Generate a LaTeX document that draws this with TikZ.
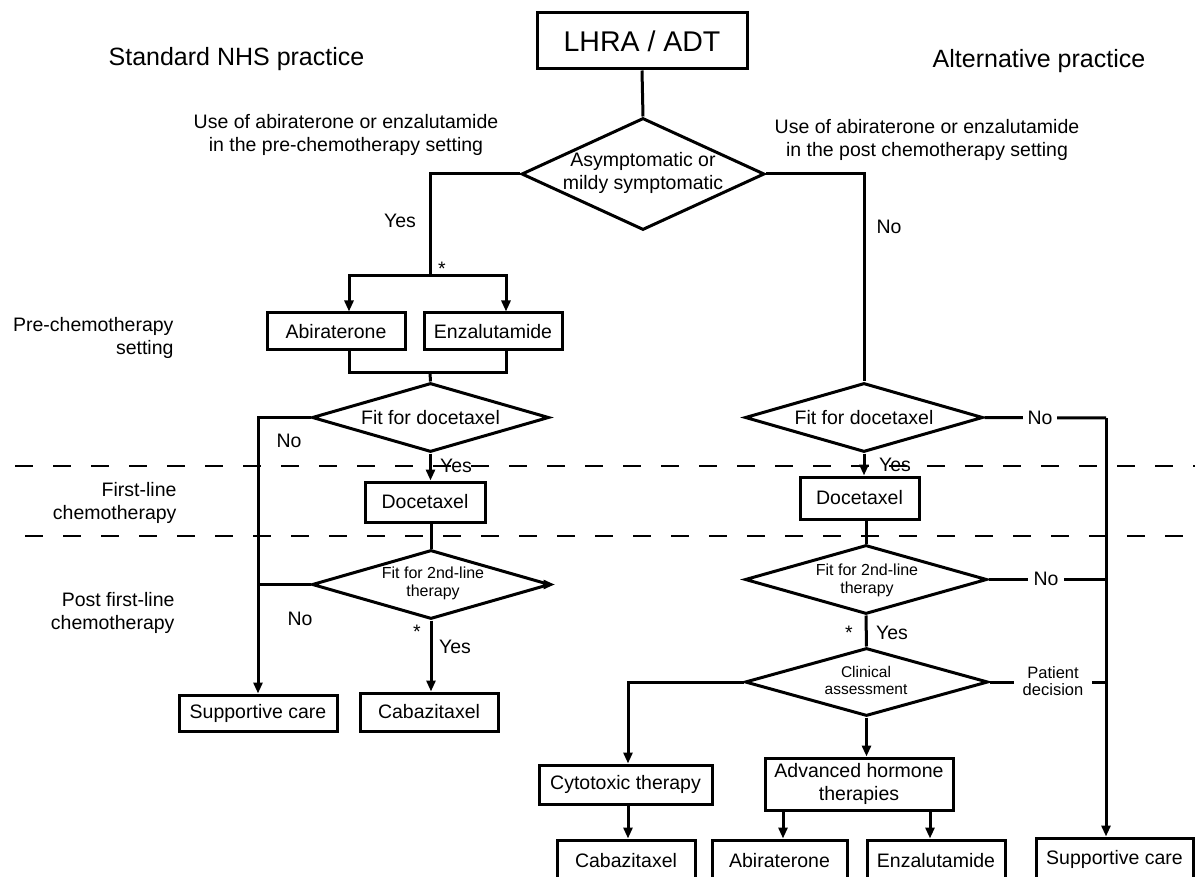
\documentclass[tikz,border=0pt]{standalone}
\usepackage{fontspec}
\setmainfont{Liberation Sans}
\usetikzlibrary{shapes.geometric,arrows.meta}
\begin{document}
\begin{tikzpicture}[x=1pt,y=-1pt,
  line width=3pt,
  font=\fontsize{19.5}{23.5}\selectfont,
  box/.style={draw, line width=3pt, inner sep=0pt, align=center},
  dia/.style={draw, diamond, line width=3pt, inner sep=0pt},
  arr/.style={-{Triangle[length=11pt,width=9pt]}},
  lbl/.style={inner sep=0pt, align=center},
  small/.style={font=\fontsize{16}{18}\selectfont},
  head/.style={inner sep=0pt, font=\fontsize{25}{28}\selectfont},
  gap/.style={fill=white, inner ysep=1pt},
  sep/.style={line width=1.3pt, dash pattern=on 18pt off 20pt},
]
\useasboundingbox (0,0) rectangle (1195,877);

% separators
\draw[sep] (15,466) -- (1195,466);
\draw[sep] (25,536) -- (1195,536);

% headings
\node[head] (hl) at (236.5,59) {Standard NHS practice};
\node[head] (hr) at (1039,61) {Alternative practice};
\node[lbl] (ul) at (346,135) {Use of abiraterone or enzalutamide\\in the pre-chemotherapy setting};
\node[lbl] (ur) at (927,140) {Use of abiraterone or enzalutamide\\in the post chemotherapy setting};

% section labels
\node[lbl, anchor=east, align=right] (s1) at (175,338) {Pre-chemotherapy\\setting};
\node[lbl, anchor=east, align=right] (s2) at (178,503) {First-line\\chemotherapy};
\node[lbl, anchor=east, align=right] (s3) at (176,613) {Post first-line\\chemotherapy};

% top
\node[box, minimum width=210, minimum height=56, font=\fontsize{28.5}{30}\selectfont] (lhra) at (642,41) {LHRA / ADT};
\node[dia, minimum width=243, minimum height=112] (d1) at (643,174) {};
\node[lbl] (d1t) at (643,173) {Asymptomatic or\\mildy symptomatic};

% left branch
\node[box, minimum width=138, minimum height=37] (abi1) at (336,331.5) {Abiraterone};
\node[box, minimum width=138, minimum height=37] (enz1) at (493,331.5) {Enzalutamide};
\node[dia, minimum width=237, minimum height=69] (d2) at (430.5,417.5) {};
\node[lbl] (d2t) at (430.5,418) {Fit for docetaxel};
\node[box, minimum width=120, minimum height=40] (doc1) at (425,502) {Docetaxel};
\node[dia, minimum width=238, minimum height=69] (d3) at (431,584.5) {};
\node[lbl, small] (d3t) at (433,583) {Fit for 2nd-line\\therapy};
\node[box, minimum width=138, minimum height=38] (cab1) at (429,712) {Cabazitaxel};
\node[box, minimum width=158, minimum height=36] (sup1) at (258,713) {Supportive care};

\coordinate (jA) at (430,276);
\coordinate (jB) at (430,373);

\draw (lhra.south) -- (d1.north);
\draw (d1.west) -| (jA);
\draw[arr] (jA) -| ([xshift=13]abi1.north);
\draw[arr] (jA) -| ([xshift=13]enz1.north);
\draw ([xshift=13]abi1.south) |- (jB) -| ([xshift=13]enz1.south);
\draw (jB) -- (d2.north);
\draw[arr] (d2.west) -| (sup1.north);
\draw[arr] (d2.south) -- (d2.south |- doc1.north);
\draw (doc1.south -| d3.north) -- (d3.north);
\draw (d3.west) -- (d3.west -| sup1.north);
\draw[arr] (d3.south) -- (d3.south |- cab1.north);
\draw[arr] ([xshift=-6]d3.east) -- ([xshift=3]d3.east);

\node[lbl] (y1) at (400,221) {Yes};
\node[lbl] (st1) at (442,269) {*};
\node[lbl] (n1) at (289,441) {No};
\node[lbl] (y2) at (456,466) {Yes};
\node[lbl] (n2) at (300,619) {No};
\node[lbl] (st2) at (417,632) {*};
\node[lbl] (y3) at (455,647) {Yes};

% right branch
\node[dia, minimum width=238, minimum height=69] (dR1) at (864,417.5) {};
\node[lbl] (dR1t) at (864,418) {Fit for docetaxel};
\node[box, minimum width=119, minimum height=42] (docR) at (859.5,498) {Docetaxel};
\node[dia, minimum width=242, minimum height=69] (dR2) at (866,579.5) {};
\node[lbl, small] (dR2t) at (867,580) {Fit for 2nd-line\\therapy};
\node[dia, minimum width=243, minimum height=68] (dR3) at (866.5,682) {};
\node[lbl, font=\fontsize{15.5}{17}\selectfont] (dR3t) at (866,680) {Clinical\\assessment};
\node[box, minimum width=173, minimum height=39] (cyto) at (625.5,784.5) {Cytotoxic therapy};
\node[box, minimum width=188, minimum height=52] (adv) at (859,784) {Advanced hormone\\therapies};
\node[box, minimum width=138, minimum height=42] (cabR) at (626,861) {Cabazitaxel};
\node[box, minimum width=135, minimum height=42] (abiR) at (779.5,861) {Abiraterone};
\node[box, minimum width=138, minimum height=42] (enzR) at (936,861) {Enzalutamide};
\node[box, minimum width=157, minimum height=42] (supR) at (1114.5,859) {Supportive care};

\coordinate (cR) at (1106,418);

\draw (d1.east) -| (dR1.north);
\draw (dR1.east) -- (cR);
\draw[arr] (cR) -- (cR |- supR.north);
\draw[arr] (dR1.south) -- (dR1.south |- docR.north);
\draw (docR.south -| dR2.north) -- (dR2.north);
\draw (dR2.east) -- (dR2.east -| cR);
\draw (dR2.south) -- (dR3.north);
\draw (dR3.east) -- (dR3.east -| cR);
\draw[arr] (dR3.west) -| ([xshift=2.5]cyto.north);
\draw[arr] (dR3.south) -- (dR3.south |- adv.north);
\draw[arr] ([xshift=2.5]cyto.south) -- ([xshift=2.5]cyto.south |- cabR.north);
\draw[arr] ([xshift=-76]adv.south) -- ([xshift=-76]adv.south |- abiR.north);
\draw[arr] ([xshift=71]adv.south) -- ([xshift=71]adv.south |- enzR.north);

\node[lbl] (n3) at (889,227) {No};
\node[lbl, gap, inner xsep=5pt] (n4) at (1040,418) {No};
\node[lbl] (y4) at (895,465) {Yes};
\node[lbl, gap, inner xsep=6pt] (n5) at (1046,579) {No};
\node[lbl] (st3) at (849,633) {*};
\node[lbl] (y5) at (892,633) {Yes};
\node[lbl, gap, inner xsep=9pt, font=\fontsize{16.5}{17.5}\selectfont] (pd) at (1053,681) {Patient\\decision};
\end{tikzpicture}
\end{document}
